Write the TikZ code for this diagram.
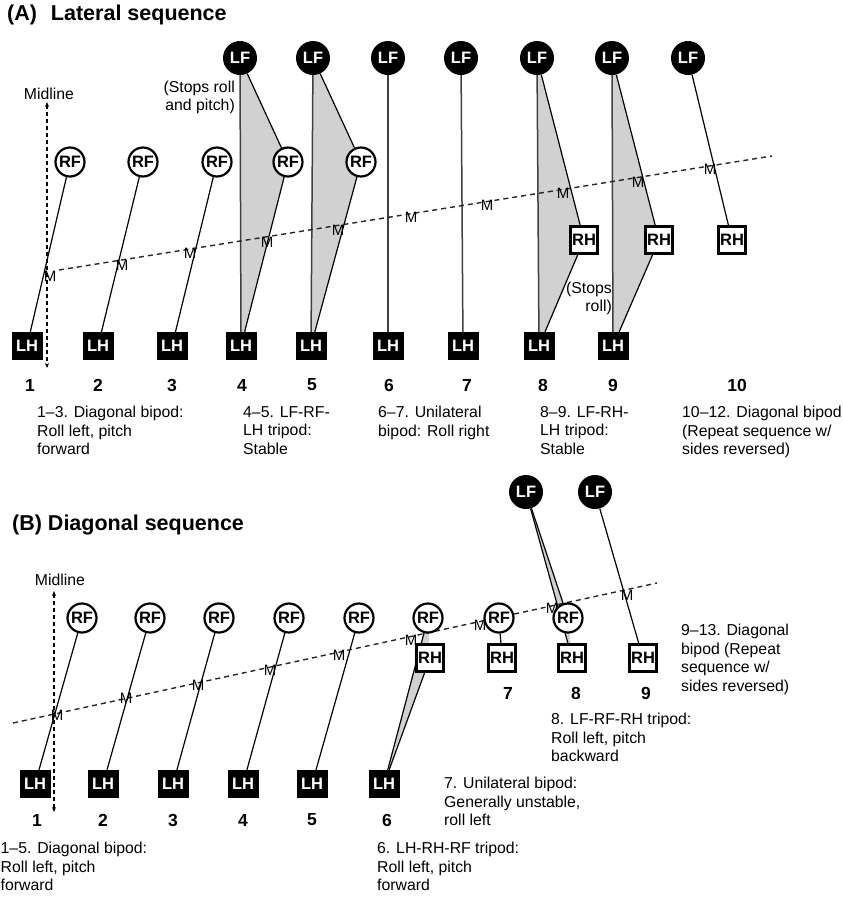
\documentclass[tikz,border=0pt]{standalone}
\usepackage{fontspec}
\setmainfont{Liberation Sans}
\usetikzlibrary{arrows.meta}
\pgfdeclarelayer{bg}
\pgfdeclarelayer{mid}
\pgfsetlayers{bg,mid,main}
\begin{document}
\begin{tikzpicture}[x=1pt,y=-1pt,
  lbl/.style={font=\fontsize{16.5}{16.5}\selectfont\bfseries},
  lf/.style={lbl,circle,fill=black,minimum size=34pt,inner sep=0pt,text=white},
  rf/.style={lbl,circle,draw=black,line width=2.2pt,fill=white,minimum size=29pt,inner sep=0pt},
  lh/.style={lbl,rectangle,fill=black,minimum width=31pt,minimum height=28pt,inner sep=0pt,text=white},
  rh/.style={lbl,rectangle,draw=black,line width=2.2pt,fill=white,minimum width=27pt,minimum height=27pt,inner sep=0pt},
  limb/.style={line width=1.2pt,black},
  vlimb/.style={line width=1.5pt,black!75},
  tri/.style={fill=black!18},
  traj/.style={line width=1.4pt,black!85,dash pattern=on 5pt off 4pt},
  midl/.style={line width=1.1pt,dash pattern=on 4pt off 3pt,{Stealth[length=5pt,width=4pt]}-{Stealth[length=5pt,width=4pt]}},
  mlab/.style={font=\fontsize{15}{15}\selectfont,inner sep=0pt},
  num/.style={font=\fontsize{17.5}{17.5}\selectfont\bfseries,inner sep=0pt},
  captxt/.style={font=\fontsize{15.8}{18.5}\selectfont,align=left,anchor=north west,inner sep=0pt},
  captr/.style={font=\fontsize{15.8}{18}\selectfont,align=right,anchor=north east,inner sep=0pt},
  ttl/.style={font=\fontsize{21.5}{21.5}\selectfont\bfseries,anchor=west,inner sep=0pt}
]
\useasboundingbox (0,0) rectangle (843,898);

% ================= (A) =================
\node[ttl] (tA) at (7,15) {(A)\hspace{8pt} Lateral sequence};

\node[lf] (aLF4) at (240,58) {LF};
\node[lf] (aLF5) at (313,58) {LF};
\node[lf] (aLF6) at (388,58) {LF};
\node[lf] (aLF7) at (461,58) {LF};
\node[lf] (aLF8) at (537,58) {LF};
\node[lf] (aLF9) at (612,58) {LF};
\node[lf] (aLF10) at (688,58) {LF};

\node[rf] (aRF1) at (70,162) {RF};
\node[rf] (aRF2) at (143,162) {RF};
\node[rf] (aRF3) at (217,162) {RF};
\node[rf] (aRF4) at (288,162) {RF};
\node[rf] (aRF5) at (361,162) {RF};

\node[lh] (aLH1) at (27,346) {LH};
\node[lh] (aLH2) at (98,346) {LH};
\node[lh] (aLH3) at (172,346) {LH};
\node[lh] (aLH4) at (241,346) {LH};
\node[lh] (aLH5) at (311,346) {LH};
\node[lh] (aLH6) at (388,346) {LH};
\node[lh] (aLH7) at (463,346) {LH};
\node[lh] (aLH8) at (539,346) {LH};
\node[lh] (aLH9) at (613,346) {LH};

\node[rh] (aRH8) at (584,240) {RH};
\node[rh] (aRH9) at (659,240) {RH};
\node[rh] (aRH10) at (732,240) {RH};

\begin{pgfonlayer}{bg}
  \fill[tri] (aLF4.center) -- (aRF4.center) -- (aLH4.center) -- cycle;
  \fill[tri] (aLF5.center) -- (aRF5.center) -- (aLH5.center) -- cycle;
  \fill[tri] (aLF8.center) -- (aRH8.center) -- (aLH8.center) -- cycle;
  \fill[tri] (aLF9.center) -- (aRH9.center) -- (aLH9.center) -- cycle;
\end{pgfonlayer}

\begin{pgfonlayer}{mid}
  \draw[limb] (aRF1) -- (aLH1);
  \draw[limb] (aRF2) -- (aLH2);
  \draw[limb] (aRF3) -- (aLH3);
  \draw[limb] (aLF4) -- (aRF4);
  \draw[limb] (aRF4) -- (aLH4);
  \draw[vlimb] (aLF4) -- (aLH4);
  \draw[limb] (aLF5) -- (aRF5);
  \draw[limb] (aRF5) -- (aLH5);
  \draw[vlimb] (aLF5) -- (aLH5);
  \draw[vlimb] (aLF6) -- (aLH6);
  \draw[vlimb] (aLF7) -- (aLH7);
  \draw[limb] (aLF8) -- (aRH8);
  \draw[limb] (aRH8) -- (aLH8);
  \draw[vlimb] (aLF8) -- (aLH8);
  \draw[limb] (aLF9) -- (aRH9);
  \draw[limb] (aRH9) -- (aLH9);
  \draw[vlimb] (aLF9) -- (aLH9);
  \draw[limb] (aLF10) -- (aRH10);

  \coordinate (aT1) at (59,270);
  \coordinate (aT2) at (772,156);
  \draw[traj] (aT1) -- (aT2);

  \coordinate (aMid1) at (47,102);
  \coordinate (aMid2) at (47,368);
  \draw[midl] (aMid1) -- (aMid2);

  \node[mlab] (aM1) at (50,276) {M};
  \node[mlab] (aM2) at (122,265) {M};
  \node[mlab] (aM3) at (190,253) {M};
  \node[mlab] (aM4) at (267,242) {M};
  \node[mlab] (aM5) at (338,230) {M};
  \node[mlab] (aM6) at (411,217) {M};
  \node[mlab] (aM7) at (487,205) {M};
  \node[mlab] (aM8) at (563,193) {M};
  \node[mlab] (aM9) at (638,182) {M};
  \node[mlab] (aM10) at (710,169) {M};
\end{pgfonlayer}

\node[font=\fontsize{15.8}{15.8}\selectfont,inner sep=0pt] (aMidT) at (49,94) {Midline};
\node[captr] (aStop1) at (235,81) {(Stops roll\\and pitch)};
\node[captr] (aStop2) at (612,282) {(Stops\\roll)};

\node[num] (aN1) at (30,385) {1};
\node[num] (aN2) at (98,385) {2};
\node[num] (aN3) at (172,385) {3};
\node[num] (aN4) at (242,385) {4};
\node[num] (aN5) at (312,385) {5};
\node[num] (aN6) at (389,385) {6};
\node[num] (aN7) at (467,385) {7};
\node[num] (aN8) at (543,385) {8};
\node[num] (aN9) at (613,385) {9};
\node[num] (aN10) at (737,385) {10};

\node[captxt] (aC1) at (37,406) {1–3. Diagonal bipod:\\Roll left, pitch\\forward};
\node[captxt] (aC2) at (243,406) {4–5. LF-RF-\\LH tripod:\\Stable};
\node[captxt] (aC3) at (378,406) {6–7. Unilateral\\bipod: Roll right};
\node[captxt] (aC4) at (540,406) {8–9. LF-RH-\\LH tripod:\\Stable};
\node[captxt] (aC5) at (682,406) {10–12. Diagonal bipod\\(Repeat sequence w/\\sides reversed)};

% ================= (B) =================
\node[ttl] (tB) at (12,525) {(B) Diagonal sequence};

\node[lf] (bLF8) at (526,492) {LF};
\node[lf] (bLF9) at (595,492) {LF};

\node[rf] (bRF1) at (82,618) {RF};
\node[rf] (bRF2) at (150,618) {RF};
\node[rf] (bRF3) at (219,618) {RF};
\node[rf] (bRF4) at (289,618) {RF};
\node[rf] (bRF5) at (359,618) {RF};
\node[rf] (bRF6) at (428,618) {RF};
\node[rf] (bRF7) at (499,618) {RF};
\node[rf] (bRF8) at (568,618) {RF};

\node[rh] (bRH6) at (430,658) {RH};
\node[rh] (bRH7) at (502,658) {RH};
\node[rh] (bRH8) at (572,658) {RH};
\node[rh] (bRH9) at (643,658) {RH};

\node[lh] (bLH1) at (35,784) {LH};
\node[lh] (bLH2) at (103,784) {LH};
\node[lh] (bLH3) at (173,784) {LH};
\node[lh] (bLH4) at (243,784) {LH};
\node[lh] (bLH5) at (312,784) {LH};
\node[lh] (bLH6) at (384,784) {LH};

\begin{pgfonlayer}{bg}
  \fill[tri] (bLH6.center) -- (bRF6.center) -- (bRH6.center) -- cycle;
  \fill[tri] (bLF8.center) -- (bRF8.center) -- (bRH8.center) -- cycle;
\end{pgfonlayer}

\begin{pgfonlayer}{mid}
  \draw[limb] (bRF1) -- (bLH1);
  \draw[limb] (bRF2) -- (bLH2);
  \draw[limb] (bRF3) -- (bLH3);
  \draw[limb] (bRF4) -- (bLH4);
  \draw[limb] (bRF5) -- (bLH5);
  \draw[limb] (bLH6) -- (bRF6);
  \draw[limb] (bLH6) -- (bRH6);
  \draw[limb] (bRF7) -- (bRH7);
  \draw[limb] (bLF8) -- (bRF8);
  \draw[limb] (bLF8) -- (bRH8);
  \draw[limb] (bLF9) -- (bRH9);

  \coordinate (bT1) at (13,723);
  \coordinate (bT2) at (657,583);
  \draw[traj] (bT1) -- (bT2);

  \coordinate (bMid1) at (54,591);
  \coordinate (bMid2) at (54,812);
  \draw[midl] (bMid1) -- (bMid2);

  \node[mlab] (bM1) at (57,715) {M};
  \node[mlab] (bM2) at (126,698) {M};
  \node[mlab] (bM3) at (198,685) {M};
  \node[mlab] (bM4) at (270,670) {M};
  \node[mlab] (bM5) at (339,655) {M};
  \node[mlab] (bM6) at (411,640) {M};
  \node[mlab] (bM7) at (480,625) {M};
  \node[mlab] (bM8) at (552,608) {M};
  \node[mlab] (bM9) at (627,595) {M};
\end{pgfonlayer}

\node[font=\fontsize{15.8}{15.8}\selectfont,inner sep=0pt] (bMidT) at (60,580) {Midline};

\node[num] (bN1) at (37,820) {1};
\node[num] (bN2) at (103,820) {2};
\node[num] (bN3) at (173,820) {3};
\node[num] (bN4) at (243,820) {4};
\node[num] (bN5) at (312,820) {5};
\node[num] (bN6) at (387,820) {6};
\node[num] (bN7) at (508,693) {7};
\node[num] (bN8) at (576,693) {8};
\node[num] (bN9) at (646,693) {9};

\node[captxt] (bC1) at (0.5,842) {1–5. Diagonal bipod:\\Roll left, pitch\\forward};
\node[captxt] (bC2) at (377,842) {6. LH-RH-RF tripod:\\Roll left, pitch\\forward};
\node[captxt] (bC3) at (444,777) {7. Unilateral bipod:\\Generally unstable,\\roll left};
\node[captxt] (bC4) at (551,713) {8. LF-RF-RH tripod:\\Roll left, pitch\\backward};
\node[captxt] (bC5) at (681,624) {9–13. Diagonal\\bipod (Repeat\\sequence w/\\sides reversed)};
\end{tikzpicture}
\end{document}
